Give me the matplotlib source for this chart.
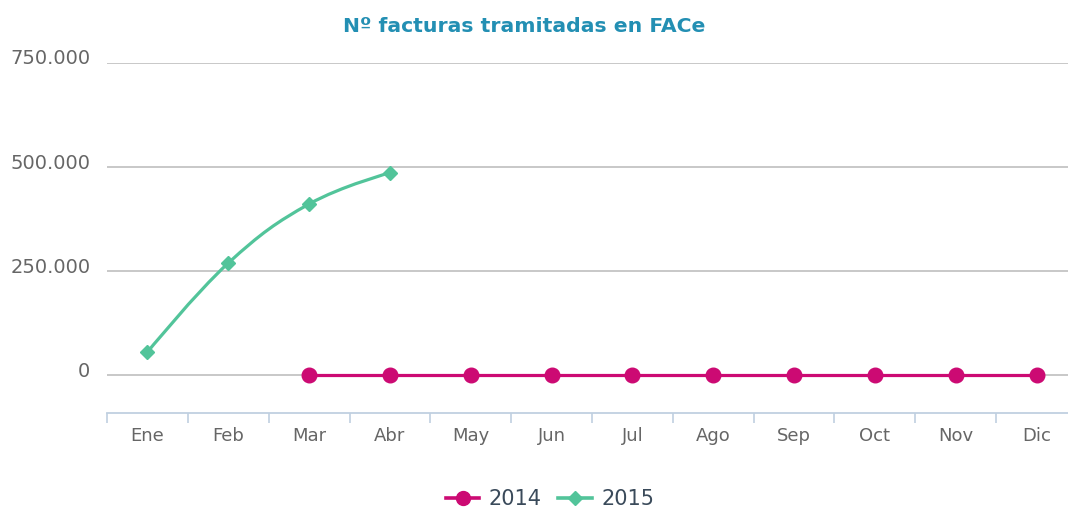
import matplotlib

matplotlib.use("Agg")
import matplotlib.pyplot as plt
import matplotlib.transforms as mtransforms
from matplotlib.lines import Line2D
from matplotlib.path import Path
from matplotlib.patches import PathPatch
import numpy as np

meses = ["Ene", "Feb", "Mar", "Abr", "May", "Jun", "Jul", "Ago", "Sep", "Oct", "Nov", "Dic"]
facturas_2014 = [None, None, 0, 0, 0, 0, 0, 0, 0, 0, 0, 0]
facturas_2015 = [55000, 269000, 411000, 486000]
yticks = [0, 250000, 500000, 750000]
ytick_labels = ["0", "250.000", "500.000", "750.000"]

COLOR_2014 = "#CC0A73"
COLOR_2015 = "#52C49A"


def spline_path(xs, ys, smoothing=1.5):
    # Highcharts-style spline: cubic bezier with control points from neighbours
    n = len(xs)
    left = [None] * n
    right = [None] * n
    denom = smoothing + 1
    for i in range(1, n - 1):
        lx = (smoothing * xs[i] + xs[i - 1]) / denom
        ly = (smoothing * ys[i] + ys[i - 1]) / denom
        rx = (smoothing * xs[i] + xs[i + 1]) / denom
        ry = (smoothing * ys[i] + ys[i + 1]) / denom
        if rx != lx:
            corr = (ry - ly) * (rx - xs[i]) / (rx - lx) + ys[i] - ry
            ly += corr
            ry += corr
        if ly > ys[i - 1] and ly > ys[i]:
            ly = max(ys[i - 1], ys[i])
            ry = 2 * ys[i] - ly
        elif ly < ys[i - 1] and ly < ys[i]:
            ly = min(ys[i - 1], ys[i])
            ry = 2 * ys[i] - ly
        if ry > ys[i + 1] and ry > ys[i]:
            ry = max(ys[i + 1], ys[i])
            ly = 2 * ys[i] - ry
        elif ry < ys[i + 1] and ry < ys[i]:
            ry = min(ys[i + 1], ys[i])
            ly = 2 * ys[i] - ry
        left[i] = (lx, ly)
        right[i] = (rx, ry)
    verts = [(xs[0], ys[0])]
    codes = [Path.MOVETO]
    for i in range(1, n):
        c1 = right[i - 1] if right[i - 1] else (xs[i - 1], ys[i - 1])
        c2 = left[i] if left[i] else (xs[i], ys[i])
        verts += [c1, c2, (xs[i], ys[i])]
        codes += [Path.CURVE4] * 3
    return Path(verts, codes)


fig = plt.figure(figsize=(10.68, 5.09), dpi=100)
# the plot area runs a little past the right edge of the picture, as in the reference
ax = fig.add_axes([107 / 1068, 1 - 413 / 509, 970 / 1068, 350 / 509])

x = np.arange(len(meses))

# 2014
x14 = [i for i, v in enumerate(facturas_2014) if v is not None]
y14 = [v for v in facturas_2014 if v is not None]
ax.plot(x14, y14, color=COLOR_2014, linewidth=2.3, marker="o", markersize=10.5,
        zorder=4, clip_on=False)

# 2015 (spline)
x15 = list(range(len(facturas_2015)))
patch = PathPatch(spline_path(x15, facturas_2015), facecolor="none",
                  edgecolor=COLOR_2015, linewidth=2.3, zorder=3)
ax.add_patch(patch)
ax.plot(x15, facturas_2015, linestyle="none", color=COLOR_2015, marker="D",
        markersize=7.5, zorder=5)

ax.set_xlim(-0.5, len(meses) - 0.5)
ax.set_ylim(-91346, 750000)

ax.set_yticks(yticks)
ax.set_yticklabels(ytick_labels)
ax.yaxis.grid(True, color="#C4C4C4", linewidth=1.3)
ax.set_axisbelow(True)
ax.tick_params(axis="y", length=0, pad=12, labelsize=14, labelcolor="#666666")
offset = mtransforms.ScaledTranslation(0, 6 / 100, fig.dpi_scale_trans)
for lbl in ax.get_yticklabels():
    lbl.set_transform(lbl.get_transform() + offset)

ax.set_xticks(x)
ax.set_xticklabels(meses)
ax.set_xticks(np.arange(-0.5, len(meses)), minor=True)
ax.tick_params(axis="x", which="major", length=0, pad=10, labelsize=13,
               labelcolor="#666666")
ax.tick_params(axis="x", which="minor", length=7, width=1.2, color="#C0D0E0")

for side in ["top", "right", "left"]:
    ax.spines[side].set_visible(False)
ax.spines["bottom"].set_color("#C0D0E0")
ax.spines["bottom"].set_linewidth(1.3)

fig.text(524 / 1068, 1 - 27 / 509, "Nº facturas tramitadas en FACe", ha="center",
         va="center", fontsize=14.7, fontweight="bold", color="#238FB3")

handles = [
    Line2D([], [], color=COLOR_2014, linewidth=2.6, marker="o", markersize=10),
    Line2D([], [], color=COLOR_2015, linewidth=2.6, marker="D", markersize=7),
]
leg = fig.legend(handles, ["2014", "2015"], loc="center", ncol=2,
                 bbox_to_anchor=(550 / 1068, 1 - 499 / 509), frameon=False,
                 fontsize=15, handlelength=1.6, handletextpad=0.45, columnspacing=0.8)
for t in leg.get_texts():
    t.set_color("#3A4A5A")

fig.savefig("out.png", dpi=100)
